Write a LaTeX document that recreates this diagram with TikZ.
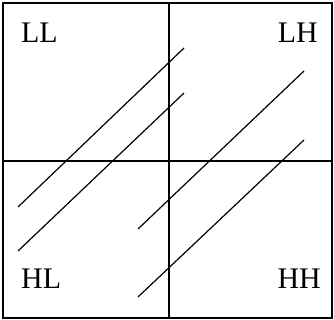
\documentclass[tikz,border=0pt]{standalone}
\usepackage{fontspec}
\setmainfont{Liberation Serif}
\begin{document}
\begin{tikzpicture}[x=1bp,y=-1bp,
  frame/.style={line width=1.5bp,draw=black},
  diag/.style={line width=1.2bp,draw=black},
  lbl/.style={inner sep=0pt,font=\fontsize{30}{32}\selectfont}]
\useasboundingbox (0,0) rectangle (334,320);
\coordinate (tl) at (3,3);
\coordinate (br) at (332,318);
\draw[frame] (tl) rectangle (br);
\coordinate (vt) at (169,3);
\coordinate (vb) at (169,318);
\coordinate (hl) at (3,161);
\coordinate (hr) at (332,161);
\draw[frame] (vt) -- (vb);
\draw[frame] (hl) -- (hr);
\node[lbl,anchor=base west] (LL) at (21,42) {LL};
\node[lbl,anchor=base east] (LH) at (318,42) {LH};
\node[lbl,anchor=base west] (HL) at (21,288) {HL};
\node[lbl,anchor=base east] (HH) at (321,288) {HH};
\coordinate (a1) at (18,207);
\coordinate (a2) at (184,48);
\coordinate (b1) at (18,251);
\coordinate (b2) at (184,93);
\coordinate (c1) at (138,229);
\coordinate (c2) at (304,71);
\coordinate (d1) at (138,297);
\coordinate (d2) at (304,140);
\draw[diag] (a1) -- (a2);
\draw[diag] (b1) -- (b2);
\draw[diag] (c1) -- (c2);
\draw[diag] (d1) -- (d2);
\end{tikzpicture}
\end{document}
